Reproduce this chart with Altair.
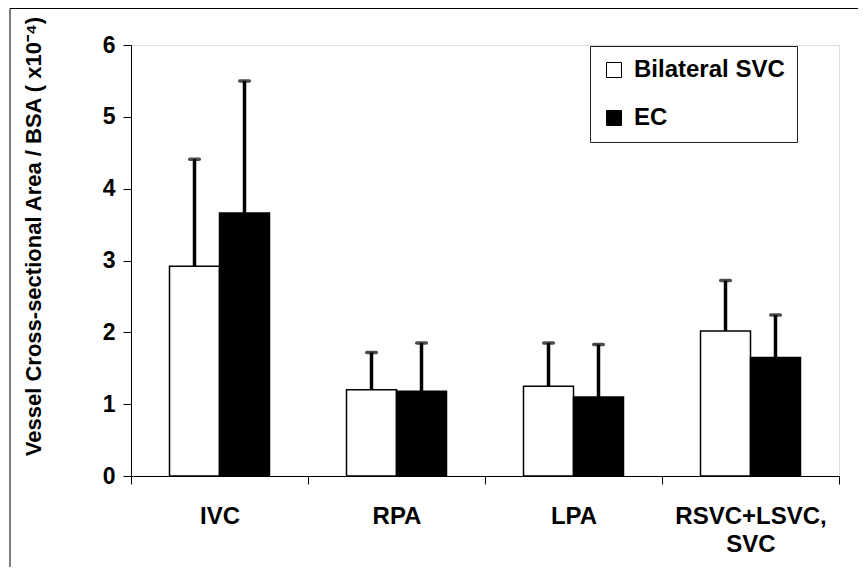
import altair as alt
import pandas as pd

categories = ["IVC", "RPA", "LPA", "RSVC+LSVC, SVC"]
groups = ["Bilateral SVC", "EC"]
bilateral_mean = [2.92, 1.20, 1.25, 2.02]
bilateral_upper = [4.41, 1.72, 1.85, 2.72]
ec_mean = [3.66, 1.18, 1.10, 1.65]
ec_upper = [5.50, 1.85, 1.83, 2.24]
y_ticks = [0, 1, 2, 3, 4, 5, 6]

rows = []
for i, c in enumerate(categories):
    rows.append({"cat": c, "grp": groups[0], "mean": bilateral_mean[i], "upper": bilateral_upper[i]})
    rows.append({"cat": c, "grp": groups[1], "mean": ec_mean[i], "upper": ec_upper[i]})
df = pd.DataFrame(rows)

FONT = "Liberation Sans"

x_enc = alt.X(
    "cat:N",
    sort=categories,
    scale=alt.Scale(paddingInner=0, paddingOuter=0),
    axis=alt.Axis(
        title=None,
        labelAngle=0,
        labelFont=FONT,
        labelFontSize=24,
        labelFontWeight="bold",
        labelColor="black",
        labelPadding=20,
        labelLineHeight=28,
        labelBaseline="top",
        labelExpr="datum.value == 'RSVC+LSVC, SVC' ? ['RSVC+LSVC,', 'SVC'] : datum.value",
        tickBand="extent",
        tickSize=8,
        tickColor="black",
        domainColor="black",
        labelLimit=400,
    ),
)
xoff = alt.XOffset("grp:N", sort=groups, scale=alt.Scale(paddingInner=0, paddingOuter=0.77))

y_enc = alt.Y(
    "mean:Q",
    scale=alt.Scale(domain=[0, 6], nice=False),
    axis=alt.Axis(
        title="Vessel Cross-sectional Area / BSA ( x10\u207b\u2074)",
        titleFont=FONT,
        titleFontSize=22,
        titleFontWeight="bold",
        titleColor="black",
        titleX=-86,
        titleY=191,
        values=y_ticks,
        format="d",
        labelFont=FONT,
        labelFontSize=23,
        labelFontWeight="bold",
        labelColor="black",
        labelPadding=8,
        tickSize=8,
        tickColor="black",
        domainColor="black",
        grid=False,
    ),
)

base = alt.Chart(df)

bars = base.mark_bar(stroke="black", strokeWidth=1.5).encode(
    x=x_enc,
    xOffset=xoff,
    y=y_enc,
    fill=alt.Fill(
        "grp:N",
        sort=groups,
        scale=alt.Scale(domain=groups, range=["white", "black"]),
        legend=alt.Legend(
            title=None,
            orient="none",
            legendX=459,
            legendY=1,
            symbolType="square",
            symbolSize=225,
            symbolStrokeColor="black",
            symbolStrokeWidth=1,
            labelFont=FONT,
            labelFontSize=24,
            labelFontWeight="bold",
            labelColor="black",
            labelOffset=8,
            rowPadding=24,
            padding=12,
            strokeColor="#222",
            labelExpr="datum.label == 'EC' ? '\u00a0EC' : datum.label",
        ),
    ),
)

rules = base.mark_rule(color="black", strokeWidth=3.5).encode(
    x=alt.X("cat:N", sort=categories),
    xOffset=xoff,
    y="mean:Q",
    y2="upper:Q",
)

caps = base.mark_tick(color="black", thickness=3.5, size=13, cornerRadius=2).encode(
    x=alt.X("cat:N", sort=categories),
    xOffset=xoff,
    y="upper:Q",
)

frame = alt.Chart(pd.DataFrame({"k": [0]})).mark_rect(
    fillOpacity=0, stroke="black", strokeWidth=1
).encode(
    x=alt.value(-121), x2=alt.value(800), y=alt.value(-36.5), y2=alt.value(700)
)

chart = alt.layer(frame, bars, rules, caps).properties(
    width=708,
    height=431,
    autosize=alt.AutoSizeParams(type="none"),
    padding={"left": 123, "top": 37, "right": 19, "bottom": 91},
).configure_view(stroke=None).configure(font=FONT)

chart.save("out.html", embed_options={"renderer": "svg", "actions": False})
